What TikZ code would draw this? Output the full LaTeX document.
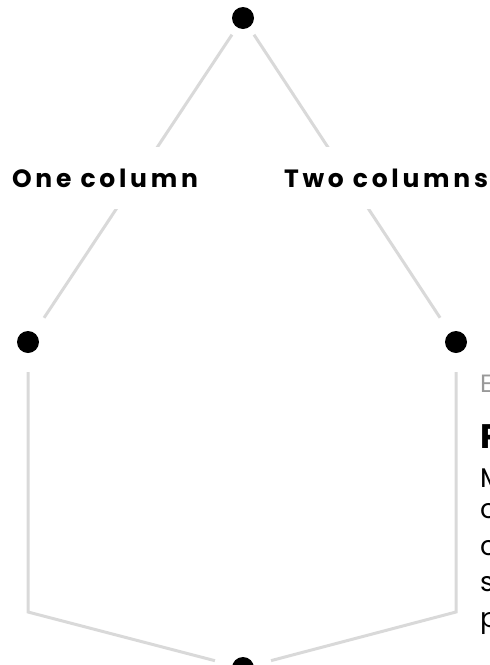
\documentclass[tikz,border=0pt]{standalone}
\usepackage{fontspec}
\setmainfont{Poppins}
\newfontfamily\spacedfont[LetterSpace=15]{Poppins}
\newfontfamily\eyebrowfont[LetterSpace=8]{Poppins}
\usepackage{tikz}
\usetikzlibrary{calc}
\definecolor{linegray}{HTML}{D9D9D9}
\definecolor{eyebrow}{HTML}{999999}
\tikzset{dot/.style={circle,fill=black,minimum size=22pt,inner sep=0pt,outer sep=0pt},
  link/.style={line width=3pt,linegray},
  branch/.style={fill=white,inner xsep=2pt,inner ysep=22pt,font=\spacedfont\bfseries\fontsize{25}{30}\selectfont},
  peek/.style={anchor=base west,inner sep=0pt,font=\fontsize{27}{32}\selectfont}}

\begin{document}
\begin{tikzpicture}[x=1pt,y=-1pt]
      \useasboundingbox (0,0) rectangle (490,665);

      \node[dot] (top) at (243,18) {};
      \node[dot] (left) at (28,342) {};
      \node[dot] (right) at (456,342) {};
      \node[dot] (bot) at (243,668) {};
      \coordinate (cornerL) at (28,612);
      \coordinate (cornerR) at (456,612);

      \draw[link,shorten <=9pt,shorten >=18pt] (top)--(left);
      \draw[link,shorten <=9pt,shorten >=18pt] (top)--(right);
      \draw[link,shorten <=19pt,shorten >=18pt] (left)--(cornerL)--(bot);
      \draw[link,shorten <=19pt,shorten >=18pt] (right)--(cornerR)--(bot);

      \node[branch] (one) at (105,178) {One column};
      \node[branch] (two) at (386,178) {Two columns};

      % text cut off by the right edge
      \node[peek,font=\eyebrowfont\fontsize{25}{30}\selectfont,text=eyebrow] (eb) at (480,392) {E};
      \node[peek,font=\bfseries\fontsize{34}{40}\selectfont] (head) at (480,448) {P};
      \foreach \ch/\y [count=\i] in {M/487,c/518,c/555,s/591,p/627}
        \node[peek] (body\i) at (480,\y) {\ch};
\end{tikzpicture}
\end{document}
